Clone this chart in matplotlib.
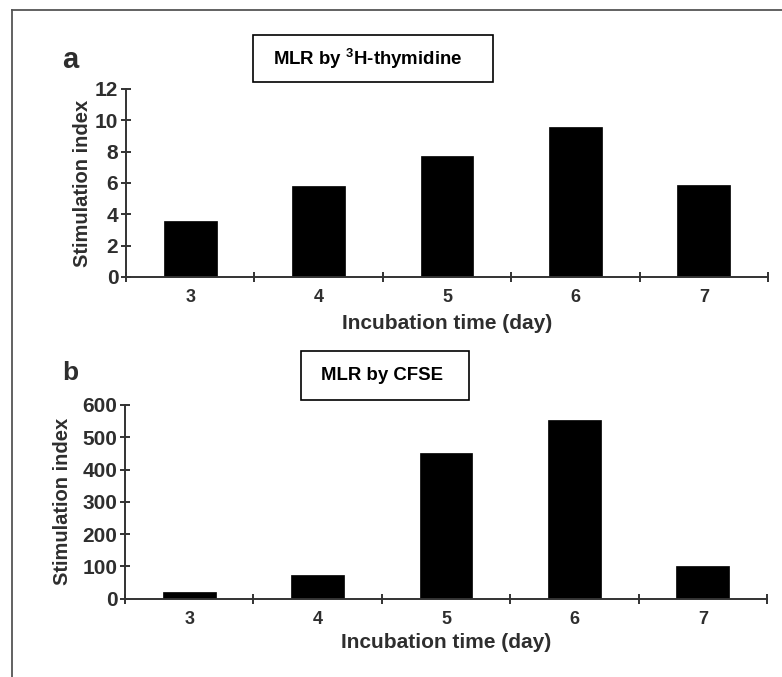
import matplotlib.pyplot as plt
from matplotlib.patches import Rectangle
from matplotlib.lines import Line2D

plt.rcParams['font.family'] = ['Liberation Sans', 'DejaVu Sans']
plt.rcParams['mathtext.fontset'] = 'custom'
plt.rcParams['mathtext.rm'] = 'Liberation Sans'
plt.rcParams['mathtext.bf'] = 'Liberation Sans:bold'

# data
days = [3, 4, 5, 6, 7]
si_thymidine = [3.6, 5.8, 7.7, 9.6, 5.9]
si_cfse = [20, 72, 452, 553, 101]

W, H = 782, 677
fig = plt.figure(figsize=(W / 100, H / 100), dpi=100)
fig.patch.set_facecolor('white')

txt = '#2e2e2e'
ax_col = '#333333'


def px(x, y):
    # pixel coords (from top-left) -> figure fraction
    return x / W, 1 - y / H


def make_panel(rect, vals, ymax, ystep, xlab_y, ylab_x):
    l, t, r, b = rect
    x0, y0 = px(l, b)
    x1, y1 = px(r, t)
    ax = fig.add_axes([x0, y0, x1 - x0, y1 - y0])
    ax.patch.set_alpha(0)
    ax.bar(days, vals, width=0.41, color='black', edgecolor='black', linewidth=0.5)
    ax.set_xlim(2.5, 7.5)
    ax.set_ylim(0, ymax)
    for s in ['top', 'right']:
        ax.spines[s].set_visible(False)
    for s in ['left', 'bottom']:
        ax.spines[s].set_color(ax_col)
        ax.spines[s].set_linewidth(1.4)
    ax.set_xticks(days)
    ax.set_xticks([2.5, 3.5, 4.5, 5.5, 6.5, 7.5], minor=True)
    ax.tick_params(axis='x', which='major', length=0, pad=9, labelsize=13, labelcolor=txt)
    ax.tick_params(axis='x', which='minor', direction='inout', length=7, width=1.4, color=ax_col)
    ax.set_yticks(range(0, ymax + 1, ystep))
    ax.tick_params(axis='y', direction='inout', length=7, width=1.4, color=ax_col,
                   pad=2, labelsize=15, labelcolor=txt)
    for lab in ax.get_xticklabels() + ax.get_yticklabels():
        lab.set_fontweight('bold')
    ax.set_xlabel('Incubation time (day)', fontsize=15, fontweight='bold', color=txt)
    ax.xaxis.set_label_coords(0.5, xlab_y)
    ax.xaxis.label.set_va('center')
    ax.set_ylabel('Stimulation index', fontsize=14.5, fontweight='bold', color=txt)
    ax.yaxis.set_label_coords(ylab_x, 0.5)
    ax.yaxis.label.set_va('center')
    return ax


ax_a = make_panel((126, 89, 768, 277), si_thymidine, 12, 2, -0.245, -0.067)
ax_b = make_panel((125, 405, 767, 598.7), si_cfse, 600, 100, -0.224, -0.098)


def title_box(l, t, r, b, text_x, text):
    x0, y0 = px(l, b)
    x1, y1 = px(r, t)
    fig.patches.append(Rectangle((x0, y0), x1 - x0, y1 - y0, transform=fig.transFigure,
                                 facecolor='white', edgecolor='black', linewidth=1.2))
    tx, ty = px(text_x, (t + b) / 2)
    fig.text(tx, ty, text, fontsize=13.4, fontweight='bold', color='black',
             ha='left', va='center')


title_box(253, 35, 493, 82, 273, r'MLR by $\mathbf{^{3}}$H-thymidine')
title_box(301, 351, 469, 400, 321, 'MLR by CFSE')

# panel letters
fig.text(*px(62, 68), 'a', fontsize=21, fontweight='bold', color=txt, va='baseline')
fig.text(*px(62, 380), 'b', fontsize=19, fontweight='bold', color=txt, va='baseline')

# outer frame (left and top edges visible)
fx, fy = px(12, 10)
fig.add_artist(Line2D([fx, fx], [0, fy], transform=fig.transFigure, color='#555555', lw=1.3))
fig.add_artist(Line2D([fx, 1], [fy, fy], transform=fig.transFigure, color='#555555', lw=1.3))

fig.savefig('out.png', dpi=100, facecolor='white')
